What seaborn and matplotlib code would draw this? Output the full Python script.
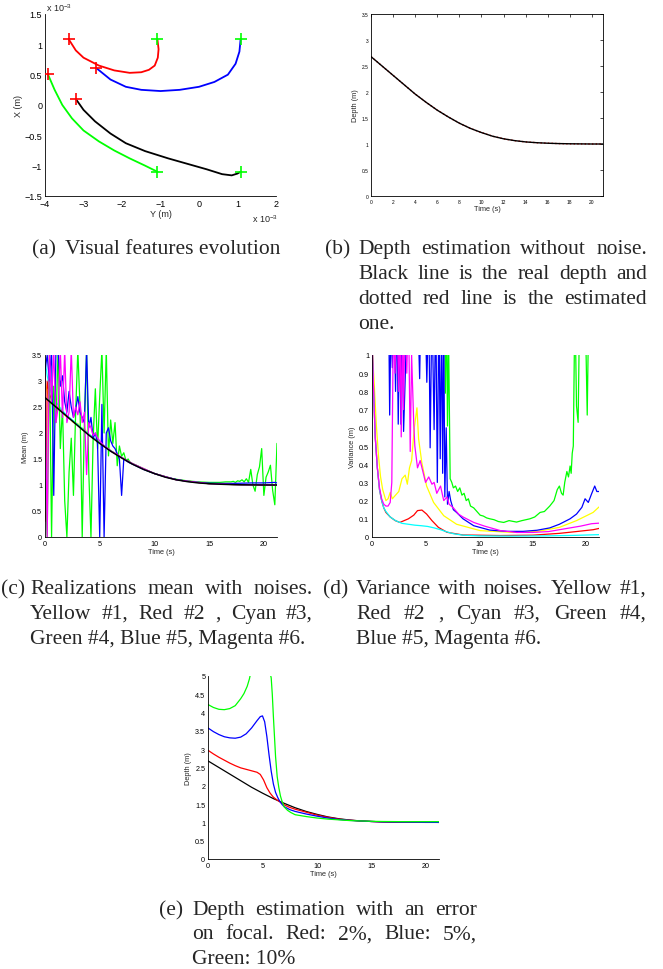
import matplotlib
matplotlib.use("Agg")
import matplotlib.pyplot as plt
from matplotlib.ticker import FuncFormatter
import numpy as np
import seaborn as sns

# ---------------- data ----------------
# (a) feature trajectories, units of 1e-3 m
red_path_y = [-3.38, -3.2, -3.0, -2.6, -2.2, -1.8, -1.5, -1.3, -1.15, -1.07, -1.05, -1.08]
red_path_x = [1.08, 0.90, 0.78, 0.65, 0.57, 0.53, 0.54, 0.58, 0.65, 0.78, 0.92, 1.08]
blue_path_y = [-2.65, -2.3, -1.9, -1.5, -1.0, -0.5, 0.0, 0.4, 0.75, 0.95, 1.05, 1.08]
blue_path_x = [0.60, 0.42, 0.30, 0.25, 0.23, 0.25, 0.30, 0.38, 0.50, 0.68, 0.88, 1.08]
green_path_y = [-3.92, -3.75, -3.55, -3.3, -3.0, -2.6, -2.2, -1.8, -1.4, -1.08]
green_path_x = [0.50, 0.25, 0.0, -0.22, -0.42, -0.60, -0.75, -0.88, -1.0, -1.10]
black_path_y = [-3.2, -3.0, -2.7, -2.3, -1.9, -1.4, -0.8, -0.3, 0.2, 0.6, 0.85, 1.0, 1.08]
black_path_x = [0.10, -0.08, -0.27, -0.47, -0.63, -0.76, -0.88, -0.97, -1.06, -1.14, -1.16, -1.13, -1.10]
start_y = [-3.38, -2.68, -3.93, -3.19]
start_x = [1.08, 0.61, 0.51, 0.10]
end_y = [-1.08, 1.08, -1.08, 1.08]
end_x = [1.08, 1.08, -1.10, -1.10]

# real depth (black) and estimate without noise (b)
depth_t = [0, 1, 2, 3, 4, 5, 6, 7, 8, 9, 10, 11, 12, 13, 14, 15, 16, 17, 18, 19, 20, 21, 21.2]
depth_real = [2.68, 2.50, 2.32, 2.14, 1.96, 1.80, 1.65, 1.52, 1.40, 1.30, 1.22, 1.15, 1.10,
              1.065, 1.04, 1.025, 1.015, 1.008, 1.004, 1.002, 1.0, 1.0, 1.0]
depth_est = [2.68, 2.50, 2.32, 2.14, 1.96, 1.80, 1.65, 1.52, 1.40, 1.30, 1.22, 1.15, 1.10,
             1.065, 1.04, 1.025, 1.015, 1.008, 1.004, 1.002, 1.0, 1.0, 1.0]

# (c) realizations mean with noises
mean_yellow_t = [0, 0.2, 0.4, 0.7, 1.0, 1.5, 2.0, 2.3, 2.6, 3.0, 3.3, 3.6, 4.0, 4.5, 5.0, 6.0, 7.0, 8.0,
                 10.0, 12.0, 15.0, 18.0, 21.2]
mean_yellow = [3.0, 2.8, 2.6, 2.55, 2.5, 2.42, 2.3, 2.27, 2.2, 2.18, 2.1, 2.08, 1.98, 1.9, 1.82, 1.66,
               1.53, 1.41, 1.22, 1.10, 1.025, 1.004, 1.0]
mean_red_t = [0, 0.1, 0.2, 0.4, 0.7, 1.0, 1.5, 2.0, 3.0, 4.0, 5.0, 6.0, 7.0, 8.0, 10.0, 12.0, 15.0, 18.0, 21.2]
mean_red = [0.3, 0.6, 3.0, 2.75, 2.6, 2.52, 2.42, 2.33, 2.15, 1.97, 1.81, 1.66, 1.53, 1.41, 1.22, 1.10,
            1.025, 1.004, 1.0]
mean_cyan_t = [0, 0.2, 0.4, 0.6, 1.0, 1.5, 2.0, 3.0, 4.0, 5.0, 6.0, 7.0, 8.0, 10.0, 12.0, 15.0, 18.0, 21.2]
mean_cyan = [3.4, 3.1, 2.9, 2.75, 2.6, 2.45, 2.34, 2.16, 1.98, 1.82, 1.66, 1.53, 1.41, 1.22, 1.10,
             1.025, 1.004, 1.0]
mean_green_t = [0.0, 0.2, 0.4, 0.6, 0.8, 1.0, 1.2, 1.4, 1.6, 1.8, 2.0, 2.2, 2.4, 2.6, 2.8, 3.0, 3.2, 3.4,
                3.6, 3.8, 4.0, 4.2, 4.4, 4.6, 4.8, 5.0, 5.2, 5.4, 5.6, 5.8, 6.0, 6.2, 6.4, 6.6, 6.8,
                7.0, 7.2, 7.4, 7.6, 7.8, 8.0,
                8.5, 9.0, 9.5, 10.0, 10.5, 11.0, 11.5, 12.0, 13.0, 14.0, 15.0, 15.5, 16.0, 16.5,
                17.0, 17.2, 17.4, 17.6, 17.8, 18.0, 18.2, 18.4, 18.6, 18.8, 19.0, 19.2, 19.4, 19.6,
                19.8, 20.0, 20.2, 20.4, 20.6, 20.8, 21.0, 21.2]
mean_green = [1.1, 0.0, 3.6, 0.0, 2.9, 2.2, 3.6, 1.7, 2.5, 0.7, 0.0, 1.25, 1.9, 0.8, 2.4, 3.6, 2.5, 0.0,
              2.2, 3.6, 1.25, 0.0, 1.9, 2.85, 1.7, 2.7, 3.6, 2.0, 3.6, 1.56, 2.25, 1.8, 2.2, 1.37, 1.75,
              1.55, 1.62, 1.47, 1.5, 1.42, 1.41,
              1.36, 1.31, 1.26, 1.22, 1.19, 1.16, 1.13, 1.11, 1.08, 1.06, 1.05, 1.05, 1.05, 1.06,
              1.06, 1.07, 1.05, 1.08, 1.07, 1.10, 1.06, 1.12, 1.05, 1.30, 1.00, 0.88, 1.20, 1.35,
              1.70, 0.80, 1.15, 1.25, 1.38, 0.90, 0.62, 1.80]
mean_blue_t = [0.0, 0.2, 0.4, 0.6, 0.8, 1.0, 1.2, 1.4, 1.6, 1.8, 2.0, 2.2, 2.4, 2.6, 2.8, 3.0, 3.2, 3.4,
               3.6, 3.8, 4.0, 4.2, 4.4, 4.6, 4.8, 5.0, 5.2, 5.4, 5.6, 5.8, 6.0, 6.2, 6.4, 6.6, 6.8,
               7.0, 7.2, 7.6, 8.0, 9.0, 10.0, 11.0, 12.0, 13.0, 14.0, 15.0, 16.0, 17.0, 18.0, 19.0,
               20.0, 21.0, 21.2]
mean_blue = [3.2, 3.5, 3.0, 3.6, 0.8, 3.6, 3.6, 2.9, 3.1, 2.6, 2.4, 2.8, 2.5, 2.3, 2.45, 2.7, 2.4, 2.3,
             2.2, 3.6, 2.1, 2.3, 1.9, 2.0, 1.8, 0.0, 2.55, 0.0, 2.0, 2.1, 1.85, 1.75, 1.7, 1.6, 1.5,
             0.8, 1.5, 1.44, 1.40, 1.30, 1.22, 1.155, 1.105, 1.07, 1.05, 1.035, 1.03, 1.03, 1.035,
             1.04, 1.04, 1.05, 1.04]
mean_magenta_t = [0.0, 0.2, 0.4, 0.6, 0.8, 1.0, 1.2, 1.4, 1.6, 1.8, 2.0, 2.2, 2.4, 2.6, 2.8, 3.0, 3.2,
                  3.4, 3.6, 3.8, 4.0, 4.2, 4.4, 4.6, 4.8, 5.0, 5.2, 5.4, 5.6, 5.8, 6.0,
                  6.5, 7.0, 8.0, 10.0, 12.0, 15.0, 18.0, 21.2]
mean_magenta = [3.2, 0.0, 3.6, 2.6, 3.6, 2.2, 2.5, 3.6, 2.3, 3.6, 2.2, 2.4, 3.6, 2.3, 2.5, 2.35, 2.6,
                2.2, 2.4, 1.2, 2.2, 2.1, 1.95, 2.0, 1.9, 1.85, 1.8, 1.75, 1.72, 1.7, 1.65,
                1.6, 1.53, 1.41, 1.22, 1.10, 1.025, 1.005, 1.0]

# (d) variance with noises
var_yellow_t = [0.0, 0.2, 0.4, 0.6, 0.8, 1.0, 1.3, 1.5, 1.7, 1.9, 2.2, 2.5, 2.8, 3.1, 3.3, 3.5, 3.7,
                3.95, 4.2, 4.35, 4.65, 5.1, 5.75, 6.7, 7.9, 10.1, 13.2, 15.4, 17.5, 19.1, 20.65, 21.2]
var_yellow = [1.05, 0.85, 0.62, 0.45, 0.33, 0.26, 0.2, 0.21, 0.245, 0.21, 0.23, 0.25, 0.32, 0.34,
              0.29, 0.38, 0.42, 0.6, 0.71, 0.54, 0.41, 0.28, 0.19, 0.117, 0.07, 0.035, 0.025, 0.03,
              0.053, 0.09, 0.135, 0.165]
var_red_t = [0.0, 0.15, 0.3, 0.5, 0.7, 0.9, 1.1, 1.3, 1.7, 2.17, 2.6, 3.0, 3.4, 3.9, 4.25, 4.66, 5.1,
             5.6, 6.2, 7.0, 8.5, 12.0, 15.0, 17.5, 19.1, 20.65, 21.2]
var_red = [1.1, 0.8, 0.55, 0.38, 0.26, 0.2, 0.16, 0.135, 0.11, 0.09, 0.08, 0.09, 0.1, 0.12, 0.145,
           0.148, 0.126, 0.09, 0.053, 0.026, 0.011, 0.008, 0.01, 0.02, 0.03, 0.04, 0.047]
var_cyan_t = [0.0, 0.15, 0.3, 0.5, 0.7, 0.9, 1.1, 1.3, 1.7, 2.2, 2.8, 3.4, 4.0, 4.6, 5.2, 5.8, 6.4,
              7.0, 7.6, 8.5, 10, 13, 16, 19, 21.2]
var_cyan = [1.1, 0.8, 0.55, 0.38, 0.26, 0.2, 0.16, 0.14, 0.11, 0.09, 0.075, 0.07, 0.065, 0.062,
            0.058, 0.05, 0.04, 0.028, 0.018, 0.01, 0.006, 0.005, 0.006, 0.009, 0.013]
var_green_t = [0.0, 6.7, 6.85, 6.95, 7.05, 7.15, 7.3, 7.45, 7.6, 7.8, 8.0, 8.2, 8.4, 8.6, 8.8, 9.0,
               9.2, 9.5, 9.8, 10.1, 10.4, 10.7, 11.0, 11.4, 11.8, 12.3, 12.8, 13.5, 14.0, 14.75,
               15.2, 15.7, 16.1, 16.6, 17.0, 17.3, 17.5, 17.7, 17.85, 18.0, 18.2, 18.35, 18.5,
               18.6, 18.7, 18.8, 18.95, 19.1, 19.25, 19.4, 19.6, 19.9, 20.1, 20.25, 21.2]
var_green = [2.0, 2.0, 0.79, 1.3, 0.61, 1.1, 0.32, 0.3, 0.27, 0.28, 0.25, 0.27, 0.23, 0.24, 0.2,
             0.21, 0.17, 0.16, 0.14, 0.12, 0.115, 0.105, 0.1, 0.095, 0.085, 0.08, 0.09, 0.082,
             0.09, 0.1, 0.11, 0.135, 0.14, 0.17, 0.2, 0.26, 0.28, 0.24, 0.23, 0.3, 0.36, 0.33,
             0.39, 0.35, 0.46, 0.5, 1.3, 0.72, 0.63, 1.3, 1.3, 1.3, 0.67, 1.3, 1.3]
var_blue_t = [0.0, 0.3, 0.6, 1.0, 1.4, 1.55, 1.65, 1.77, 1.9, 2.05, 2.2, 2.33, 2.45, 2.58, 2.7, 2.8,
              2.95, 3.1, 3.3, 3.5, 3.73, 3.9, 4.1, 4.3, 4.45, 4.57, 4.75, 4.95, 5.12, 5.3, 5.43,
              5.6, 5.8, 5.95, 6.1, 6.25, 6.37, 6.5, 6.6, 6.7, 6.8, 6.93, 7.05, 7.2, 7.35, 7.6,
              7.9, 8.5, 9.5, 11.0, 12.6, 14.1, 15.4, 16.6, 17.5, 18.5, 19.1, 19.6, 19.9, 20.2,
              20.5, 20.8, 21.0, 21.2]
var_blue = [1.5, 1.3, 1.2, 1.2, 1.3, 1.3, 0.67, 1.2, 0.93, 1.3, 0.8, 1.3, 0.62, 1.2, 0.62, 1.3,
            0.58, 0.87, 1.3, 1.2, 1.3, 1.2, 1.3, 1.2, 0.87, 1.3, 1.2, 1.3, 0.85, 1.3, 0.49, 1.3,
            0.59, 1.3, 0.3, 1.3, 0.43, 1.2, 0.35, 1.2, 0.22, 0.6, 0.18, 0.25, 0.2, 0.15, 0.135,
            0.1, 0.062, 0.038, 0.031, 0.031, 0.037, 0.05, 0.07, 0.1, 0.126, 0.163, 0.21, 0.19,
            0.236, 0.28, 0.25, 0.25]
var_magenta_t = [0.0, 0.15, 0.3, 0.5, 0.7, 0.9, 1.1, 1.3, 1.5, 1.7, 1.85, 2.0, 2.15, 2.3, 2.5, 2.62,
                 2.73, 2.85, 2.95, 3.1, 3.25, 3.4, 3.57, 3.7, 3.9, 4.0, 4.25, 4.5, 4.75, 5.0, 5.3,
                 5.6, 5.8, 6.05, 6.4, 6.7, 7.0, 7.2, 7.6, 8.1, 8.5, 9.5, 10.5, 12.0, 13.5, 15.0,
                 16.5, 17.5, 18.5, 19.5, 20.5, 21.2]
var_magenta = [1.1, 0.8, 0.55, 0.38, 0.27, 0.21, 0.18, 0.17, 0.17, 0.19, 0.3, 1.2, 0.9, 1.3, 0.8,
               1.2, 0.55, 1.2, 0.7, 1.3, 0.9, 1.3, 0.47, 1.0, 0.62, 0.5, 0.38, 0.42, 0.36, 0.3,
               0.33, 0.29, 0.3, 0.24, 0.28, 0.2, 0.22, 0.18, 0.16, 0.125, 0.11, 0.08, 0.06, 0.035,
               0.025, 0.025, 0.03, 0.04, 0.05, 0.06, 0.073, 0.076]

# (e) depth estimation with focal error
focal_red_t = [0, 0.5, 1, 1.5, 2, 2.5, 3, 3.5, 4, 4.5, 4.8, 5.1, 5.4, 5.7, 6.0, 6.3, 6.6, 7.0, 7.5,
               8, 9, 10, 11, 12, 13, 14, 15, 16, 18, 21.2]
focal_red = [2.97, 2.87, 2.78, 2.70, 2.62, 2.55, 2.49, 2.45, 2.41, 2.37, 2.31, 2.16, 1.95, 1.80,
             1.69, 1.62, 1.56, 1.48, 1.41, 1.36, 1.28, 1.20, 1.14, 1.09, 1.06, 1.04, 1.025, 1.015,
             1.005, 1.0]
focal_blue_t = [0, 0.5, 1, 1.5, 2, 2.5, 3, 3.5, 4, 4.5, 4.8, 5.0, 5.2, 5.4, 5.6, 5.8, 6.0, 6.2, 6.4,
                6.6, 6.8, 7.0, 7.5, 8, 9, 10, 11, 12, 13, 14, 15, 16, 18, 21.2]
focal_blue = [3.58, 3.48, 3.40, 3.34, 3.31, 3.30, 3.33, 3.42, 3.58, 3.78, 3.89, 3.91, 3.75, 3.35,
              2.85, 2.40, 2.05, 1.82, 1.68, 1.57, 1.49, 1.43, 1.35, 1.30, 1.23, 1.17, 1.12, 1.08,
              1.055, 1.04, 1.025, 1.015, 1.008, 1.0]
focal_green_t = [0, 0.5, 1, 1.5, 2, 2.5, 3, 3.3, 3.6, 3.8, 4.0, 5.6, 5.8, 5.9, 6.0, 6.1, 6.2, 6.35,
                 6.5, 6.65, 6.8, 7.0, 7.3, 7.6, 8, 9, 10, 11, 12, 13, 14, 15, 16, 18, 21.2]
focal_green = [4.22, 4.14, 4.09, 4.08, 4.11, 4.19, 4.38, 4.52, 4.72, 4.92, 5.2, 5.2, 4.95, 4.5,
               3.9, 3.35, 2.8, 2.25, 1.95, 1.72, 1.57, 1.42, 1.33, 1.27, 1.21, 1.16, 1.12, 1.09,
               1.07, 1.05, 1.04, 1.03, 1.025, 1.02, 1.02]

# ---------------- figure ----------------
W, H = 663, 970
sns.set_style("white")
plt.rcParams['font.family'] = ['Liberation Sans', 'DejaVu Sans']
plt.rcParams['mathtext.default'] = 'regular'

fig = plt.figure(figsize=(W / 100, H / 100), dpi=100)


def px_axes(l, t, r, b):
    return fig.add_axes([l / W, 1 - b / H, (r - l) / W, (b - t) / H])


def num(v, pos=None):
    return "{:g}".format(round(v, 6)).replace("-", "\u2212")


def style(ax, tick_size, box=False):
    for s in ['top', 'right']:
        ax.spines[s].set_visible(box)
    for s in ax.spines.values():
        s.set_linewidth(0.6)
        s.set_color('black')
    ax.tick_params(direction='in', length=2.5, width=0.5, labelsize=tick_size, pad=2,
                   colors='black', top=box, right=box)
    ax.xaxis.set_major_formatter(FuncFormatter(num))
    ax.yaxis.set_major_formatter(FuncFormatter(num))


def line(ax, t, v, color, lw=0.9, ls='-'):
    sns.lineplot(x=t, y=v, color=color, lw=lw, ls=ls, ax=ax, estimator=None, sort=False)


# (a) visual features evolution
ax = px_axes(45, 15, 276, 197)
line(ax, red_path_y, red_path_x, 'red', 1.3)
line(ax, blue_path_y, blue_path_x, 'blue', 1.3)
line(ax, green_path_y, green_path_x, 'lime', 1.3)
line(ax, black_path_y, black_path_x, 'black', 1.3)
sns.scatterplot(x=start_y, y=start_x, marker='+', s=70, color='red', linewidth=1.2, ax=ax, zorder=5)
sns.scatterplot(x=end_y, y=end_x, marker='+', s=70, color='lime', linewidth=1.2, ax=ax, zorder=5)
ax.set_xlim(-4, 2)
ax.set_ylim(-1.5, 1.5)
ax.set_xticks(np.arange(-4, 2.1, 1))
ax.set_yticks(np.arange(-1.5, 1.6, 0.5))
style(ax, 6.5)
ax.set_xlabel('Y (m)', fontsize=6.5, labelpad=1)
ax.set_ylabel('X (m)', fontsize=6.5, labelpad=1)
fig.text(46 / W, 1 - 12 / H, r'x 10$^{-3}$', fontsize=6.5, va='baseline')
fig.text(252 / W, 1 - 223 / H, r'x 10$^{-3}$', fontsize=6.5, va='baseline')

# (b) depth estimation without noise
ax = px_axes(371, 15, 603, 197)
line(ax, depth_t, depth_est, 'red', 1.0, ':')
line(ax, depth_t, depth_real, 'black', 1.0)
ax.set_xlim(0, 21)
ax.set_ylim(0, 3.5)
ax.set_xticks(np.arange(0, 21, 2))
ax.set_yticks(np.arange(0, 3.6, 0.5))
style(ax, 3.5, box=True)
ax.set_xlabel('Time (s)', fontsize=5.3, labelpad=1)
ax.set_ylabel('Depth (m)', fontsize=5.3, labelpad=2)

# (c) realizations mean
ax = px_axes(45, 356, 277, 538)
line(ax, mean_yellow_t, mean_yellow, 'yellow')
line(ax, mean_red_t, mean_red, 'red')
line(ax, mean_cyan_t, mean_cyan, 'cyan')
line(ax, mean_green_t, mean_green, 'lime')
line(ax, mean_blue_t, mean_blue, 'blue')
line(ax, mean_magenta_t, mean_magenta, 'magenta')
line(ax, depth_t, depth_real, 'black', 1.1)
ax.set_xlim(0, 21.2)
ax.set_ylim(0, 3.5)
ax.set_xticks([0, 5, 10, 15, 20])
ax.set_yticks(np.arange(0, 3.6, 0.5))
style(ax, 5.2)
ax.set_xlabel('Time (s)', fontsize=5.3, labelpad=1)
ax.set_ylabel('Mean (m)', fontsize=5.3, labelpad=2)

# (d) variance
ax = px_axes(372, 356, 599, 538)
line(ax, var_yellow_t, var_yellow, 'yellow')
line(ax, var_red_t, var_red, 'red')
line(ax, var_cyan_t, var_cyan, 'cyan')
line(ax, var_green_t, var_green, 'lime')
line(ax, var_blue_t, var_blue, 'blue')
line(ax, var_magenta_t, var_magenta, 'magenta')
ax.set_xlim(0, 21.2)
ax.set_ylim(0, 1)
ax.set_xticks([0, 5, 10, 15, 20])
ax.set_yticks(np.arange(0, 1.01, 0.1))
style(ax, 5.2)
ax.set_xlabel('Time (s)', fontsize=5.3, labelpad=1)
ax.set_ylabel('Variance (m)', fontsize=5.3, labelpad=2)

# (e) focal error
ax = px_axes(208, 677, 439, 860)
line(ax, depth_t, depth_real, 'black')
line(ax, focal_red_t, focal_red, 'red')
line(ax, focal_blue_t, focal_blue, 'blue')
line(ax, focal_green_t, focal_green, 'lime')
ax.set_xlim(0, 21.2)
ax.set_ylim(0, 5)
ax.set_xticks([0, 5, 10, 15, 20])
ax.set_yticks(np.arange(0, 5.1, 0.5))
style(ax, 5.2)
ax.set_xlabel('Time (s)', fontsize=5.3, labelpad=1)
ax.set_ylabel('Depth (m)', fontsize=5.3, labelpad=2)

# ---------------- captions (justified like the paper) ----------------
cap_font = dict(family=['Liberation Serif', 'DejaVu Serif'], size=15.5)
renderer = fig.canvas.get_renderer()


def word_width(word):
    t = fig.text(0, 0, word, **cap_font)
    w = t.get_window_extent(renderer).width
    t.remove()
    return w


def caption(label, lines, x_label, x_body, x_right, y0, dy=25):
    fig.text(x_label / W, 1 - y0 / H, label, va='baseline', **cap_font)
    for i, text in enumerate(lines):
        y = 1 - (y0 + i * dy) / H
        words = text.split(' ')
        if i == len(lines) - 1 or len(words) == 1:
            fig.text(x_body / W, y, text, va='baseline', **cap_font)
            continue
        widths = [word_width(w) for w in words]
        gap = (x_right - x_body - sum(widths)) / (len(words) - 1)
        x = x_body
        for w, wd in zip(words, widths):
            fig.text(x / W, y, w, va='baseline', **cap_font)
            x += wd + gap


caption('(a)', ['Visual features evolution'], 32, 65, 313, 254)
caption('(b)', ['Depth estimation without noise.',
                'Black line is the real depth and',
                'dotted red line is the estimated',
                'one.'], 325, 358, 647, 254)
caption('(c)', ['Realizations mean with noises.',
                'Yellow #1, Red #2 , Cyan #3,',
                'Green #4, Blue #5, Magenta #6.'], 1, 30, 313, 594)
caption('(d)', ['Variance with noises. Yellow #1,',
                'Red #2 , Cyan #3, Green #4,',
                'Blue #5, Magenta #6.'], 323, 356, 646, 594)
caption('(e)', ['Depth estimation with an error',
                'on focal. Red: 2%, Blue: 5%,',
                'Green: 10%'], 159, 192, 477, 915, dy=24.5)

fig.savefig('out.png', dpi=100)
